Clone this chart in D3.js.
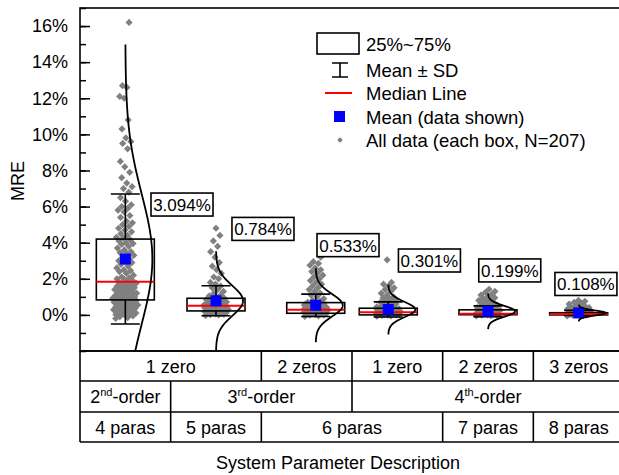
<!DOCTYPE html>
<html lang="en">
<head>
<meta charset="UTF-8">
<title>MRE by system parameter description</title>
<script src="https://d3js.org/d3.v7.min.js"></script>
<style>
  body { margin: 0; background: #fff; }
  text { font-family: "Liberation Sans", Arial, sans-serif; fill: #000; }
</style>
</head>
<body>
<script>
// box positions on the category axis (boxes 3 and 4 sit a bit off their cells)
const positions = [1, 2, 3.1, 3.9, 5, 6];
// summary values, in %
const means = [3.094, 0.784, 0.533, 0.301, 0.199, 0.108];
const sds = [3.6, 0.83, 0.62, 0.42, 0.3, 0.14];
const q1 = [0.83, 0.22, 0.09, 0.0, 0.01, 0.0];
const medians = [1.84, 0.5, 0.28, 0.15, 0.07, 0.05];
const q3 = [4.2, 0.92, 0.68, 0.37, 0.28, 0.12];
const meanLabels = ["3.094%", "0.784%", "0.533%", "0.301%", "0.199%", "0.108%"];
// where the mean labels sit: centre on the category axis, top edge in %
const labelX = [1.625, 2.518, 3.456, 4.354, 5.24, 6.08];
const labelY = [6.75, 5.4, 4.5, 3.65, 3.1, 2.35];

// all data points (MRE %)
const pts1 = [16.2, 12.7, 12.6, 12.1, 12.0, 10.8, 10.3, 9.8, 9.6, 9.5, 9.2, 8.5, 8.2, 7.9, 7.6, 7.3, 7.1, 7.0, 6.8,
  6.5, 6.3, 6.1, 6.0, 5.9, 5.8, 5.7, 5.5, 5.4, 5.2, 5.1, 5.0, 4.9, 4.8, 4.7, 4.6, 4.5, 4.4, 4.3, 4.25,
  4.15, 4.1, 4.0, 3.95, 3.9, 3.8, 3.7, 3.6, 3.5, 3.45, 3.4, 3.3, 3.2, 3.1, 3.0, 2.95, 2.9, 2.8, 2.7, 2.6,
  2.5, 2.45, 2.4, 2.3, 2.2, 2.1, 2.05, 2.0, 1.95, 1.9,
  1.8, 1.78, 1.75, 1.7, 1.65, 1.6, 1.55, 1.5, 1.48, 1.45, 1.4, 1.35, 1.3, 1.28, 1.25, 1.2, 1.15, 1.1,
  1.08, 1.05, 1.0, 0.98, 0.95, 0.92, 0.9, 0.88, 0.85, 0.84,
  0.8, 0.78, 0.75, 0.7, 0.68, 0.65, 0.6, 0.58, 0.55, 0.5, 0.48, 0.45, 0.4, 0.38, 0.35, 0.3, 0.28, 0.25,
  0.2, 0.18, 0.15, 0.1, 0.08, 0.05, 0.02, 0.0, -0.05, -0.1, -0.15, -0.2];
const pts2 = [4.8, 4.4, 4.1, 3.8, 3.5, 3.2, 2.9, 2.7, 2.5, 2.3, 2.1, 2.0, 1.8, 1.7, 1.6, 1.5, 1.4, 1.3, 1.2,
  1.1, 1.05, 1.0, 0.95,
  0.9, 0.88, 0.85, 0.82, 0.8, 0.78, 0.75, 0.72, 0.7, 0.68, 0.65, 0.62, 0.6, 0.58, 0.55, 0.53, 0.52, 0.51,
  0.49, 0.47, 0.45, 0.43, 0.41, 0.4, 0.38, 0.36, 0.35, 0.33, 0.31, 0.3, 0.28, 0.27, 0.25, 0.24, 0.23,
  0.21, 0.2, 0.18, 0.16, 0.15, 0.13, 0.12, 0.1, 0.08, 0.06, 0.05, 0.03, 0.02, 0.0, -0.03];
const pts3 = [3.2, 2.95, 2.85, 2.75, 2.6, 2.5, 2.4, 2.3, 2.2, 2.1, 2.0, 1.9, 1.8, 1.7, 1.6, 1.5, 1.4, 1.3,
  1.2, 1.1, 1.0, 0.9, 0.8, 0.75, 0.7,
  0.66, 0.63, 0.6, 0.57, 0.55, 0.52, 0.5, 0.47, 0.45, 0.42, 0.4, 0.38, 0.36, 0.34, 0.32, 0.3, 0.29,
  0.27, 0.26, 0.24, 0.23, 0.21, 0.2, 0.18, 0.17, 0.15, 0.14, 0.12, 0.11, 0.1,
  0.08, 0.07, 0.05, 0.04, 0.02, 0.0, -0.02, -0.05, -0.08];
const pts4 = [3.05, 1.8, 1.7, 1.6, 1.5, 1.4, 1.3, 1.2, 1.1, 1.0, 0.95, 0.9, 0.85, 0.8, 0.75, 0.7, 0.65,
  0.6, 0.55, 0.5, 0.45, 0.42, 0.4, 0.38,
  0.36, 0.34, 0.32, 0.3, 0.28, 0.26, 0.24, 0.22, 0.2, 0.18, 0.17, 0.16,
  0.14, 0.13, 0.12, 0.1, 0.09, 0.08, 0.07, 0.06, 0.05, 0.04, 0.03, 0.02, 0.01,
  0.0, -0.01, -0.02, -0.03, -0.05, -0.07];
const pts5 = [1.42, 1.3, 1.25, 1.15, 1.1, 1.0, 0.95, 0.9, 0.85, 0.8, 0.75, 0.7, 0.65, 0.6, 0.55, 0.5,
  0.45, 0.4, 0.35, 0.32, 0.3, 0.28,
  0.26, 0.24, 0.22, 0.2, 0.18, 0.16, 0.14, 0.12, 0.1, 0.09, 0.08,
  0.06, 0.05, 0.04, 0.03, 0.02, 0.01, 0.0, -0.01, -0.02, -0.04, -0.06];
const pts6 = [0.8, 0.75, 0.7, 0.65, 0.6, 0.55, 0.5, 0.45, 0.42, 0.4, 0.37, 0.35, 0.32, 0.3, 0.28, 0.25,
  0.22, 0.2, 0.18, 0.16, 0.14, 0.12, 0.1,
  0.09, 0.08, 0.07, 0.06, 0.055, 0.05, 0.045, 0.04, 0.03, 0.02, 0.01, 0.0,
  -0.01, -0.02, -0.03, -0.05];
const allPoints = [pts1, pts2, pts3, pts4, pts5, pts6];

const yTicks = [0, 2, 4, 6, 8, 10, 12, 14, 16];
const yMinor = d3.range(-2, 18, 1);

// table under the plot: [label, superscript, rest, from, to] in category units
const row1 = [["1 zero", "", "", 0.5, 2.5], ["2 zeros", "", "", 2.5, 3.5], ["1 zero", "", "", 3.5, 4.5],
  ["2 zeros", "", "", 4.5, 5.5], ["3 zeros", "", "", 5.5, 6.5]];
const row2 = [["2", "nd", "-order", 0.5, 1.5], ["3", "rd", "-order", 1.5, 3.5], ["4", "th", "-order", 3.5, 6.5]];
const row3 = [["4 paras", "", "", 0.5, 1.5], ["5 paras", "", "", 1.5, 2.5], ["6 paras", "", "", 2.5, 4.5],
  ["7 paras", "", "", 4.5, 5.5], ["8 paras", "", "", 5.5, 6.5]];

const width = 619, height = 475;
const plot = { left: 80, right: 624, top: 8, bottom: 351 };
const rowEdges = [351, 381, 412, 442];

const x = d3.scaleLinear().domain([0.5, 6.5]).range([plot.left, plot.right]);
const y = d3.scaleLinear().domain([-2, 17]).range([plot.bottom, plot.top]);

const svg = d3.select("body").append("svg")
  .attr("width", width)
  .attr("height", height);

svg.append("clipPath").attr("id", "clip")
  .append("rect")
  .attr("x", plot.left).attr("y", plot.top)
  .attr("width", plot.right - plot.left).attr("height", plot.bottom - plot.top);

const g = svg.append("g").attr("clip-path", "url(#clip)");

const boxW = 58, capW = 29, curveAmp = 27;

// jittered points: spread wider where the data is dense
allPoints.forEach((vals, i) => {
  const cx = x(positions[i]);
  const sorted = vals.slice().sort((a, b) => a - b);
  const py = sorted.map(v => y(v));
  const dens = py.map(p => py.filter(q => Math.abs(q - p) < 7).length);
  const maxD = d3.max(dens);
  g.append("g").selectAll("path")
    .data(sorted)
    .join("path")
    .attr("d", d3.symbol(d3.symbolSquare, 26))
    .attr("transform", (v, j) => {
      const u = ((j * 0.618034) % 1) * 2 - 1;
      const w = 3 + 10 * Math.sqrt(dens[j] / maxD);
      return `translate(${cx + u * w},${py[j]}) rotate(45)`;
    })
    .attr("fill", "#808080");
});

// boxes, whiskers, medians, means, curves
positions.forEach((p, i) => {
  const cx = x(p);
  const top = means[i] + sds[i], bot = means[i] - sds[i];
  g.append("rect")
    .attr("x", cx - boxW / 2).attr("y", y(q3[i]))
    .attr("width", boxW).attr("height", Math.max(y(q1[i]) - y(q3[i]), 0.1))
    .attr("fill", "none").attr("stroke", "#000").attr("stroke-width", 1.6);
  g.append("path")
    .attr("d", `M${cx},${y(q3[i])}V${y(top)}M${cx - capW / 2},${y(top)}H${cx + capW / 2}` +
      `M${cx},${y(q1[i])}V${y(bot)}M${cx - capW / 2},${y(bot)}H${cx + capW / 2}`)
    .attr("fill", "none").attr("stroke", "#000").attr("stroke-width", 1.6);
  g.append("line")
    .attr("x1", cx - boxW / 2).attr("x2", cx + boxW / 2)
    .attr("y1", y(medians[i])).attr("y2", y(medians[i]))
    .attr("stroke", "#ff0000").attr("stroke-width", 2);
  g.append("rect")
    .attr("x", cx - 5.5).attr("y", y(means[i]) - 5.5)
    .attr("width", 11).attr("height", 11)
    .attr("fill", "#0000ff");
  const lo = means[i] - 3.3 * sds[i], hi = means[i] + 3.3 * sds[i];
  const vs = d3.range(0, 201).map(k => lo + (hi - lo) * k / 200);
  g.append("path")
    .datum(vs)
    .attr("d", d3.line()
      .x(v => cx + curveAmp * Math.exp(-0.5 * ((v - means[i]) / sds[i]) ** 2))
      .y(v => y(v)))
    .attr("fill", "none").attr("stroke", "#000").attr("stroke-width", 1.8);
});

// mean labels
positions.forEach((p, i) => {
  const lx = x(labelX[i]), ly = y(labelY[i]);
  svg.append("rect")
    .attr("x", lx - 31).attr("y", ly)
    .attr("width", 62).attr("height", 23)
    .attr("fill", "#fff").attr("stroke", "#000").attr("stroke-width", 1.6);
  svg.append("text")
    .attr("x", lx).attr("y", ly + 18)
    .attr("text-anchor", "middle")
    .style("font-size", "17px")
    .text(meanLabels[i]);
});

// frame
svg.append("rect")
  .attr("x", plot.left).attr("y", plot.top)
  .attr("width", plot.right - plot.left).attr("height", plot.bottom - plot.top)
  .attr("fill", "none").attr("stroke", "#000").attr("stroke-width", 1.6);

// y axis, ticks pointing inward
svg.append("g")
  .attr("transform", `translate(${plot.left},0)`)
  .call(d3.axisLeft(y).tickValues(yMinor).tickSize(-6).tickFormat(""))
  .call(a => a.select(".domain").remove())
  .call(a => a.selectAll("line").attr("stroke-width", 1.5));
svg.append("g")
  .attr("transform", `translate(${plot.left},0)`)
  .call(d3.axisLeft(y).tickValues(yTicks).tickSize(-10).tickPadding(12).tickFormat(d => d + "%"))
  .call(a => a.select(".domain").remove())
  .call(a => a.selectAll("line").attr("stroke-width", 1.5))
  .call(a => a.selectAll("text")
    .attr("fill", "#000")
    .style("font-size", "18px")
    .style("font-family", '"Liberation Sans", Arial, sans-serif'));

svg.append("text")
  .attr("transform", `translate(24,181) rotate(-90)`)
  .attr("text-anchor", "middle")
  .style("font-size", "18px")
  .text("MRE");

// table
const table = svg.append("g");
rowEdges.forEach(r => {
  table.append("line")
    .attr("x1", plot.left).attr("x2", plot.right)
    .attr("y1", r).attr("y2", r)
    .attr("stroke", "#000").attr("stroke-width", 1.6);
});
table.append("line")
  .attr("x1", plot.left).attr("x2", plot.left)
  .attr("y1", rowEdges[0]).attr("y2", rowEdges[3])
  .attr("stroke", "#000").attr("stroke-width", 1.6);

[row1, row2, row3].forEach((row, r) => {
  const y0 = rowEdges[r], y1 = rowEdges[r + 1];
  row.forEach(cell => {
    const [label, sup, rest, from, to] = cell;
    if (from > 0.5) {
      table.append("line")
        .attr("x1", x(from)).attr("x2", x(from))
        .attr("y1", y0).attr("y2", y1)
        .attr("stroke", "#000").attr("stroke-width", 1.6);
    }
    const t = table.append("text")
      .attr("x", (x(from) + x(to)) / 2)
      .attr("y", (y0 + y1) / 2 + 6.5)
      .attr("text-anchor", "middle")
      .style("font-size", "18px");
    t.append("tspan").text(label);
    if (sup) {
      t.append("tspan").attr("dy", -7).style("font-size", "11px").text(sup);
      t.append("tspan").attr("dy", 7).text(rest);
    }
  });
});

svg.append("text")
  .attr("x", 338).attr("y", 469)
  .attr("text-anchor", "middle")
  .style("font-size", "18px")
  .text("System Parameter Description");

// legend
const leg = svg.append("g");
const legText = ["25%~75%", "Mean \u00b1 SD", "Median Line", "Mean (data shown)", "All data (each box, N=207)"];
const legY = [44, 70, 93, 117, 140];
leg.append("rect").attr("x", 317).attr("y", 33).attr("width", 42).attr("height", 21)
  .attr("fill", "none").attr("stroke", "#000").attr("stroke-width", 1.6);
leg.append("path").attr("d", "M332,63H348M340,63V77M332,77H348")
  .attr("fill", "none").attr("stroke", "#000").attr("stroke-width", 1.6);
leg.append("line").attr("x1", 325).attr("x2", 352).attr("y1", 93).attr("y2", 93)
  .attr("stroke", "#ff0000").attr("stroke-width", 2);
leg.append("rect").attr("x", 334).attr("y", 111).attr("width", 11).attr("height", 11).attr("fill", "#0000ff");
leg.append("path").attr("d", d3.symbol(d3.symbolSquare, 16))
  .attr("transform", "translate(340,140) rotate(45)").attr("fill", "#808080");
legText.forEach((t, i) => {
  leg.append("text")
    .attr("x", 366).attr("y", legY[i] + 6.5)
    .style("font-size", "18.5px")
    .text(t);
});
</script>
</body>
</html>
